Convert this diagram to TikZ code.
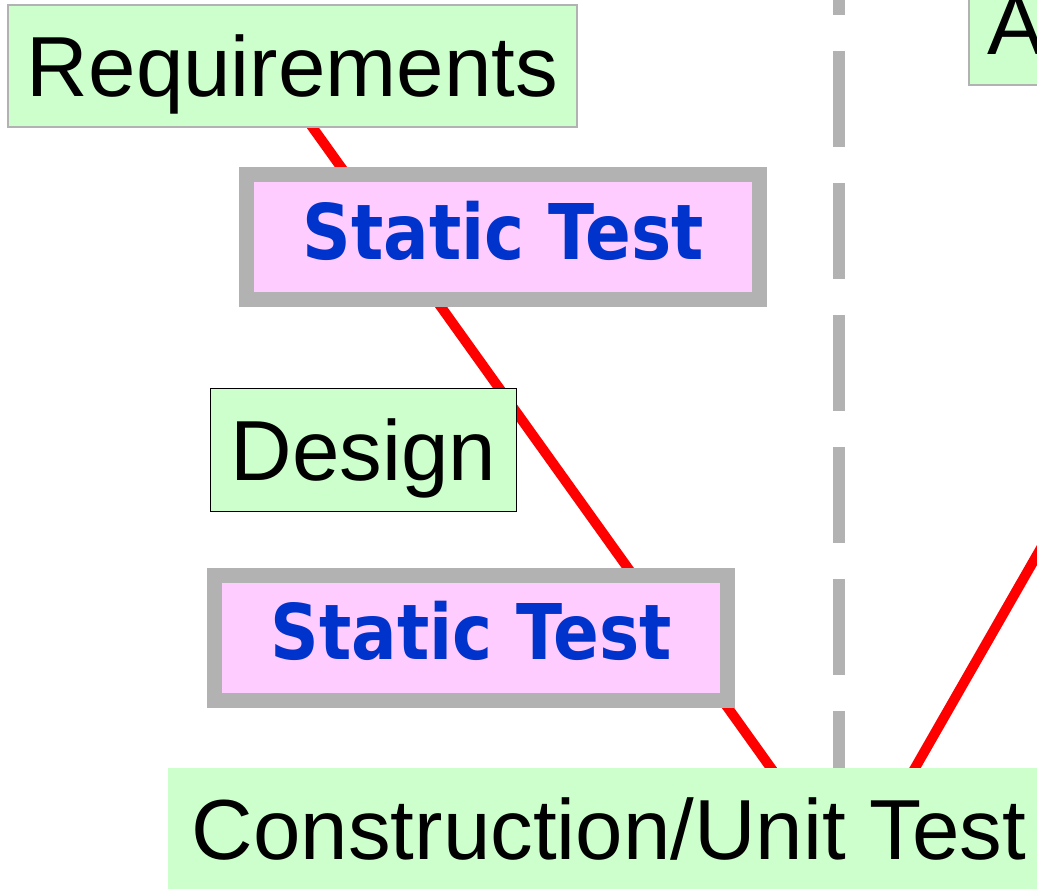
\documentclass[tikz,border=0pt]{standalone}
\usepackage{fontspec}
\setmainfont{Liberation Sans}
\newfontfamily\stfont{DejaVu Sans}[FakeStretch=0.88]
\definecolor{boxgreen}{HTML}{CCFFCC}
\definecolor{boxpink}{HTML}{FFCCFF}
\definecolor{framegray}{HTML}{B2B2B2}
\definecolor{textblue}{HTML}{0033CC}
\definecolor{vred}{HTML}{FF0000}
\pgfdeclarelayer{background}
\pgfsetlayers{background,main}
\begin{document}
\begin{tikzpicture}[x=1pt,y=-1pt,
  phase/.style={fill=boxgreen, inner sep=0pt, font=\fontsize{85.3}{86}\selectfont,
    text height=61pt, text depth=0pt},
  review/.style={draw=framegray, line width=15pt, fill=boxpink, inner sep=0pt,
    minimum width=513pt, minimum height=125pt,
    font=\stfont\bfseries\fontsize{76.8}{77}\selectfont, text=textblue,
    text height=56pt, text depth=12pt},
  vline/.style={draw=vred, line width=10pt},
  divider/.style={draw=framegray, line width=12pt, dash pattern=on 96pt off 36pt, dash phase=81pt}
]
\useasboundingbox (0,0) rectangle (1037,891);

\node[phase, draw=framegray, line width=2pt, minimum width=569pt, minimum height=122pt] (req) at (292.5,66) {Requirements};
\node[phase, draw=framegray, line width=2pt, anchor=south west, minimum height=121pt,
  inner xsep=18pt, text width=150pt, align=left] (acc) at (968,86) {A};
\node[review] (st1) at (503,237) {Static Test};
\node[phase, draw=black, line width=1.5pt, minimum width=306pt, minimum height=123pt] (des) at (363.5,450) {Design};
\node[review] (st2) at (471,637.5) {Static Test};
\node[phase, minimum width=882pt, minimum height=121pt] (cons) at (609,828.5) {Construction/Unit Test};

\coordinate (dtop) at (839,0);
\coordinate (vtop) at (300.1,110);
\coordinate (vbot) at (786.7,790);
\coordinate (rbot) at (902.4,790);
\coordinate (rtop) at (1100,445);

\begin{pgfonlayer}{background}
  \draw[divider] (dtop) -- (dtop |- cons.north);
  \draw[vline] (vtop) -- (vbot);
  \draw[vline] (rbot) -- (rtop);
\end{pgfonlayer}
\end{tikzpicture}
\end{document}
